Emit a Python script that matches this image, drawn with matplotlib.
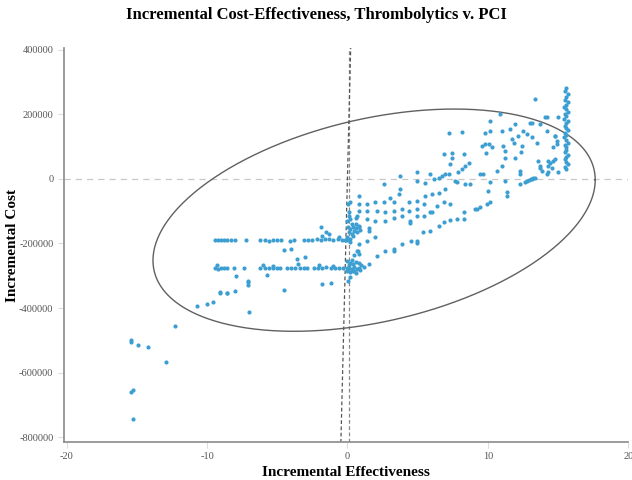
import numpy as np
import matplotlib
matplotlib.use('Agg')
import matplotlib.pyplot as plt

plt.rcParams['axes.unicode_minus'] = False

# Incremental effectiveness / cost, grouped by region
# far lower-left outliers
left_x = [-15.4, -15.4, -14.9, -14.2, -12.9, -12.3, -15.3, -15.4, -15.3,
          -10.7, -10.0, -9.6, -9.1, -8.6, -8.0, -7.0, -7.1, -7.1, -7.1]
left_y = [-498000, -506000, -516000, -521000, -568000, -457000, -655000, -660000, -743000,
          -395000, -389000, -380000, -352000, -353000, -346000, -413000, -320000, -328000, -315000]

# upper horizontal band (~ -190000)
band1_x = [-9.4, -9.2, -9.0, -8.8, -8.6, -8.3, -8.0, -7.2, -6.2, -5.9, -5.6, -5.3,
           -5.0, -4.7, -4.1, -3.8, -3.1, -2.8, -2.5, -2.2, -1.9, -1.6, -1.3, -1.0,
           -0.7, -0.4, -0.2, 0.0, -1.8, -1.3, -1.9, -0.6, -1.5]
band1_y = [-190000, -190000, -190000, -190000, -190000, -190000, -190000, -190000,
           -190000, -190000, -191000, -190000, -190000, -190000, -191000, -190000,
           -189000, -190000, -188000, -186000, -188000, -185000, -187000, -189000,
           -186000, -188000, -190000, -189000, -176000, -170000, -150000, -180000, -165000]

# lower horizontal band (~ -276000)
band2_x = [-9.4, -9.2, -9.0, -8.8, -8.55, -8.1, -7.4, -6.2, -5.9, -5.6, -5.3, -5.0,
           -4.8, -4.3, -4.0, -3.7, -3.4, -3.1, -2.85, -2.4, -2.1, -1.8, -1.5, -1.2,
           -0.9, -0.6, -0.3, 0.0, -9.3, -6.0, -5.3, -3.5, -2.0, -1.0]
band2_y = [-276000, -278000, -276000, -275000, -277000, -276000, -276000, -276000,
           -275000, -276000, -277000, -276000, -276000, -277000, -276000, -276000,
           -275000, -276000, -276000, -276000, -275000, -276000, -274000, -276000,
           -275000, -277000, -276000, -276000, -268000, -268000, -270000, -265000,
           -268000, -270000]

# scattered points around the bands
misc_x = [-4.5, -4.05, -3.6, -3.0, -7.96, -5.7, -4.5, -1.8, -1.16, -9.1, -8.55]
misc_y = [-219000, -217000, -248000, -243000, -300000, -297000, -343000, -325000,
          -322000, -351000, -353000]

# dense cluster next to zero effectiveness
zero_x = [0.05, 0.2, 0.4, 0.6, 0.8, 0.1, 0.3, 0.5, 0.7, 0.9, 0.0, 0.2, 0.4, 0.15, 0.3, 0.6,
          0.07, 0.14, 0.1, 0.64, 0.2, 0.8, 0.0, 0.16,
          0.0, 0.2, 0.4, 0.6, 0.8, 1.0, 1.2, 0.1, 0.3, 0.5, 0.7, 0.9, 0.2, 0.4, 0.0, 0.6,
          0.1, 0.3, 0.5, 0.8, 0.07, 0.78, 0.2, 0.5]
zero_y = [-150000, -155000, -148000, -140000, -145000, -165000, -170000, -160000, -165000,
          -158000, -180000, -185000, -178000, -195000, -140000, -152000,
          -78000, -104000, -115000, -120000, -125000, -52500, -130000, -73000,
          -255000, -260000, -265000, -258000, -262000, -268000, -272000, -275000, -280000,
          -272000, -278000, -282000, -290000, -286000, -285000, -292000,
          -268000, -250000, -285000, -275000, -315000, -222000, -305000, -235000]

# diagonal spread, 0 < effectiveness < 9.5
diag_x = [1.52, 2.1, 2.7, 3.3, 3.3, 3.9, 4.5, 4.95, 4.95, 5.4, 5.9, 6.5, 6.85, 7.3, 7.8,
          8.3, 8.3, 9.1,
          0.81, 1.40, 1.99, 2.58, 3.06, 3.29, 3.65, 3.77, 4.36, 4.95, 5.55, 6.02, 6.49, 6.97,
          0.81, 1.40, 2.11, 2.70, 3.29, 3.89, 4.36, 4.95, 5.43, 5.90, 6.37, 6.85, 7.32,
          0.69, 1.40, 1.99, 2.70, 3.29, 3.89, 4.48, 4.48, 4.95, 5.43, 6.02,
          0.81, 1.52, 1.52, 0.81, 1.40, 1.99, 0.69, 0.81,
          2.58, 3.77, 4.95, 4.95, 5.55, 5.90, 6.14, 6.49, 6.73, 6.97, 7.20, 7.44, 7.44,
          6.85, 7.32, 7.68, 7.80, 7.91, 8.15, 8.32, 8.39, 8.63, 8.39, 8.74, 9.22, 9.45,
          7.2, 8.15, 9.45, 9.92, 10.16]
diag_y = [-264000, -238000, -222500, -217000, -224000, -202000, -192000, -192000, -198000,
          -166000, -161000, -145000, -135000, -128000, -125000, -125000, -104000, -94000,
          -78000, -78000, -73000, -73000, -58000, -73000, -47000, -32000, -73000, -68000,
          -53000, -47000, -45000, -32000,
          -99000, -99000, -99000, -104000, -99000, -94000, -99000, -94000, -78000, -104000,
          -83000, -73000, -78000,
          -114000, -125000, -130000, -130000, -120000, -114000, -130000, -138000, -114000,
          -114000, -104000,
          -150000, -161000, -152000, -202000, -192000, -181000, -223000, -233000,
          -16000, 9000, 20000, -6000, -14000, 14000, -1000, 4000, 9000, 16000, 16000,
          81000, 66000, 78000, 45000, -6000, -11000, 20000, 30000, 76000, 40000, 50000,
          -16000, -16000, -94000, 14000,
          143000, 146000, -88000, -78000, -73000]

# upper right spread, 9.5 < effectiveness < 15.3
right_x = [13.36, 10.88, 10.17, 14.24, 15.02, 13.12, 13.71, 11.94, 9.81, 10.17, 11.0, 11.6,
           12.53, 12.77, 12.18, 11.71, 11.83, 13.13, 13.48, 14.2, 14.8, 14.9, 9.8, 9.57,
           10.05, 9.88, 10.28, 11.1, 11.2, 12.4, 11.94, 12.35, 11.23, 10.64, 10.99, 9.69,
           12.3, 12.3, 13.7, 13.84, 14.3, 14.4, 14.67, 14.3, 15.0, 12.3, 12.65, 12.9, 13.1,
           13.2, 11.2, 10.17, 11.35, 10.0, 11.35,
           14.78, 14.9, 14.66, 14.3, 14.78, 14.55, 14.19, 13.72, 13.6, 13.36, 13.12, 12.77,
           14.07, 13.0]
right_y = [246000, 200000, 179000, 192000, 190000, 174000, 169000, 169000, 143000, 148000,
           148000, 154000, 148000, 138000, 133000, 123000, 112000, 128000, 112000, 148000,
           133000, 117000, 107000, 102000, 107000, 81000, 97000, 102000, 87000, 102000,
           66000, 84000, 66000, 25000, 40000, 14000, 25000, 14000, 40000, 25000, 40000,
           50000, 56000, 20000, 20000, -16000, -9000, -4000, -1000, 4000, -6000, -11000,
           -52000, -37000, -42000,
           133000, 107000, 97000, 56000, 61000, 35000, 14000, 35000, 56000, 4000, -1000,
           -6000, 190000, 174000]

# vertical column at maximum effectiveness
col_x = [15.6, 15.5, 15.7, 15.6, 15.5, 15.7, 15.6, 15.4, 15.6, 15.7, 15.5, 15.6, 15.4,
         15.7, 15.6, 15.5, 15.6, 15.7, 15.5, 15.6, 15.4, 15.6, 15.7, 15.5, 15.6, 15.6,
         15.5, 15.7, 15.6, 15.5, 15.6, 15.7, 15.5, 15.6]
col_y = [282000, 272000, 262000, 252000, 245000, 238000, 230000, 222000, 215000, 208000,
         200000, 193000, 186000, 180000, 172000, 165000, 158000, 150000, 142000, 135000,
         128000, 120000, 112000, 105000, 97000, 90000, 82000, 75000, 68000, 60000, 52000,
         45000, 38000, 30000]

eff = np.concatenate([left_x, band1_x, band2_x, misc_x, zero_x, diag_x, right_x, col_x])
cost = np.concatenate([left_y, band1_y, band2_y, misc_y, zero_y, diag_y, right_y, col_y])

# confidence ellipse (center, half-extents, phase)
ell_cx, ell_cy = 1.9, -128000
ell_a, ell_b = 15.75, 344000
ell_phi = 1.2

# willingness-to-pay line slope through origin
wtp_slope = 1.75e6

fig = plt.figure(figsize=(6.32, 4.8), dpi=100)
ax = fig.add_axes([0.101, 0.079, 0.893, 0.821])

ax.axhline(0, color='#c8c8c8', linestyle=(0, (5, 4)), linewidth=0.9, zorder=1)
ax.axvline(0.1, color='#888888', linestyle=(0, (3, 2)), linewidth=0.9, zorder=1)
wx = np.array([-0.5, 0.5])
ax.plot(wx, wx * wtp_slope, color='#555555', linestyle=(0, (3, 2)), linewidth=0.9, zorder=1)

ax.scatter(eff, cost, s=9, color='#3d9fd1', linewidths=0, zorder=3)

t = np.linspace(0, 2 * np.pi, 400)
ax.plot(ell_cx + ell_a * np.cos(t), ell_cy + ell_b * np.cos(t - ell_phi),
        color='#606060', linewidth=1.0, zorder=2)

ax.set_xlim(-20.2, 20)
ax.set_ylim(-815000, 405000)
ax.set_xticks([-20, -10, 0, 10, 20])
ax.set_yticks([-800000, -600000, -400000, -200000, 0, 200000, 400000])
ax.set_yticklabels(['-800000', '-600000', '-400000', '-200000', '0', '200000', '400000'])

for s in ['top', 'right']:
    ax.spines[s].set_visible(False)
for s in ['left', 'bottom']:
    ax.spines[s].set_color('#8a8a8a')
    ax.spines[s].set_linewidth(1.2)
ax.tick_params(colors='#dddddd', labelcolor='#555555', length=4, width=0.8, labelsize=7.5)
for lab in ax.get_xticklabels() + ax.get_yticklabels():
    lab.set_family('Liberation Serif')

ax.set_xlabel('Incremental Effectiveness', fontsize=11, fontweight='bold',
              family='Liberation Serif', labelpad=3)
ax.set_ylabel('Incremental Cost', fontsize=11, fontweight='bold',
              family='Liberation Serif')
ax.yaxis.set_label_coords(-0.08, 0.5)
fig.suptitle('Incremental Cost-Effectiveness, Thrombolytics v. PCI', fontsize=12,
             fontweight='bold', family='Liberation Serif', x=0.5, y=0.985)

plt.savefig('out.png', dpi=100)
